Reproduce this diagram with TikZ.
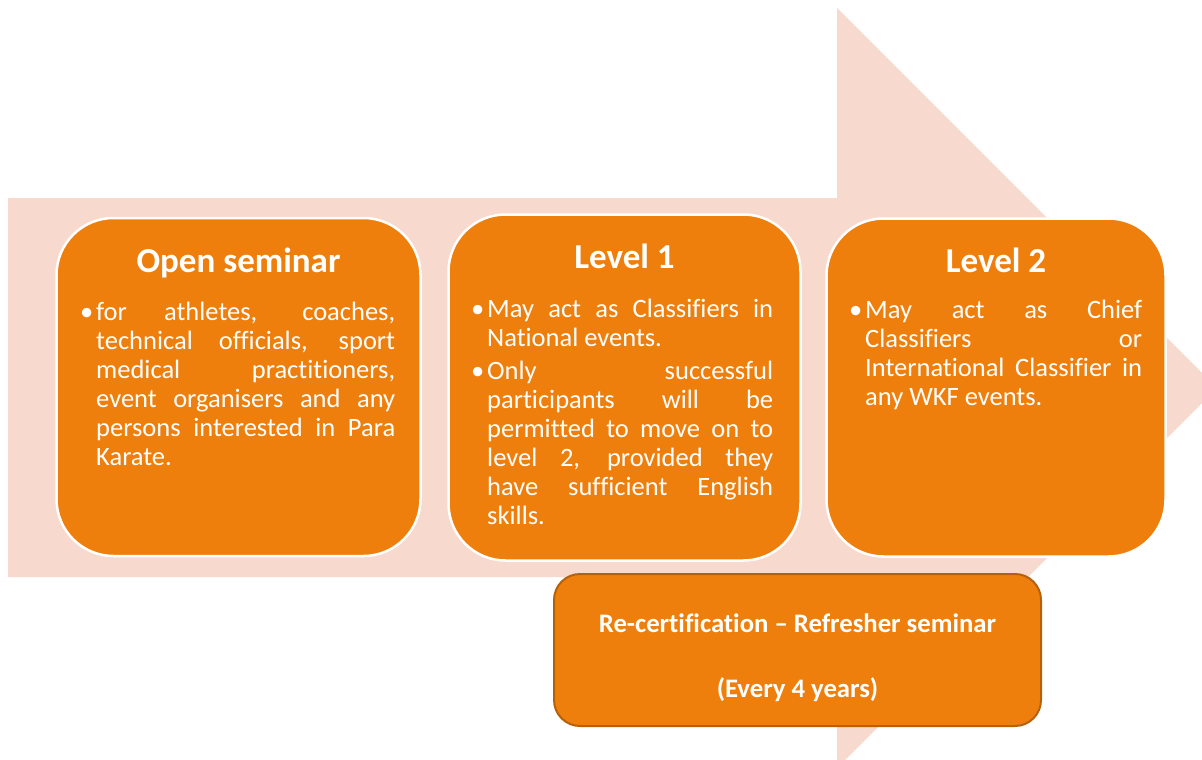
\documentclass[tikz,border=0pt]{standalone}
\usepackage{fontspec}
\setmainfont{Carlito}[Ligatures={NoCommon}]
\definecolor{arrowpink}{HTML}{F8D9CD}
\definecolor{boxorange}{HTML}{EF7F0C}
\definecolor{rcborder}{HTML}{B5600B}
\hbadness=10000
\hyphenpenalty=10000
\newcommand{\bul}{\leavevmode\llap{•\hspace{3pt}}}
\begin{document}
\begin{tikzpicture}[x=1pt,y=-1pt,
  box/.style={rectangle, rounded corners=57pt, fill=boxorange, draw=white, line width=2.5pt, inner sep=0pt},
  boxtitle/.style={text=white, font=\fontsize{35}{40}\selectfont\bfseries, anchor=base, inner sep=0pt},
  boxbody/.style={text=white, font=\fontsize{26.5}{29}\selectfont, anchor=north west, inner sep=0pt, align=justify},
]
\clip (0,0) rectangle (1202,760);
\fill[arrowpink] (8,198) -- (837,198) -- (837,8) -- (1217,388) -- (837,768) -- (837,577) -- (8,577) -- cycle;

\node[box, minimum width=364pt, minimum height=338pt] (os) at (238.5,387) {};
\node[box, minimum width=352pt, minimum height=346pt] (l1) at (624.5,387.5) {};
\node[box, minimum width=339pt, minimum height=338pt] (l2) at (996,387.5) {};
\node[rectangle, rounded corners=26pt, fill=boxorange, draw=rcborder, line width=2pt, inner sep=0pt, minimum width=487pt, minimum height=152pt] (rc) at (797.5,650) {};

\node[boxtitle] (ost) at (238.5,272) {Open seminar};
\node[boxtitle] (l1t) at (624.5,268) {Level 1};
\node[boxtitle] (l2t) at (996,272) {Level 2};

\node[boxbody, text width=299pt] (osb) at (96,299) {\rule{0pt}{21pt}\bul for athletes, coaches,\linebreak technical officials, sport\linebreak medical practitioners,\linebreak event organisers and any\linebreak persons interested in Para\linebreak Karate.};

\node[boxbody, text width=286pt] (l1b) at (487,296) {\rule{0pt}{21pt}\bul May act as Classifiers in\linebreak National events.\par\vspace{4pt}\bul Only successful\linebreak participants will be\linebreak permitted to move on to\linebreak level 2, provided they\linebreak have sufficient English\linebreak skills.};

\node[boxbody, text width=277pt] (l2b) at (865,297) {\rule{0pt}{21pt}\bul May act as Chief\linebreak Classifiers or\linebreak International Classifier in\linebreak any WKF events.};

\node[text=white, font=\fontsize{26.7}{65}\selectfont\bfseries, align=center, anchor=north, inner sep=0pt] (rct) at (797.5,611) {\rule{0pt}{21pt}Re-certification – Refresher seminar\\(Every 4 years)};
\end{tikzpicture}
\end{document}
